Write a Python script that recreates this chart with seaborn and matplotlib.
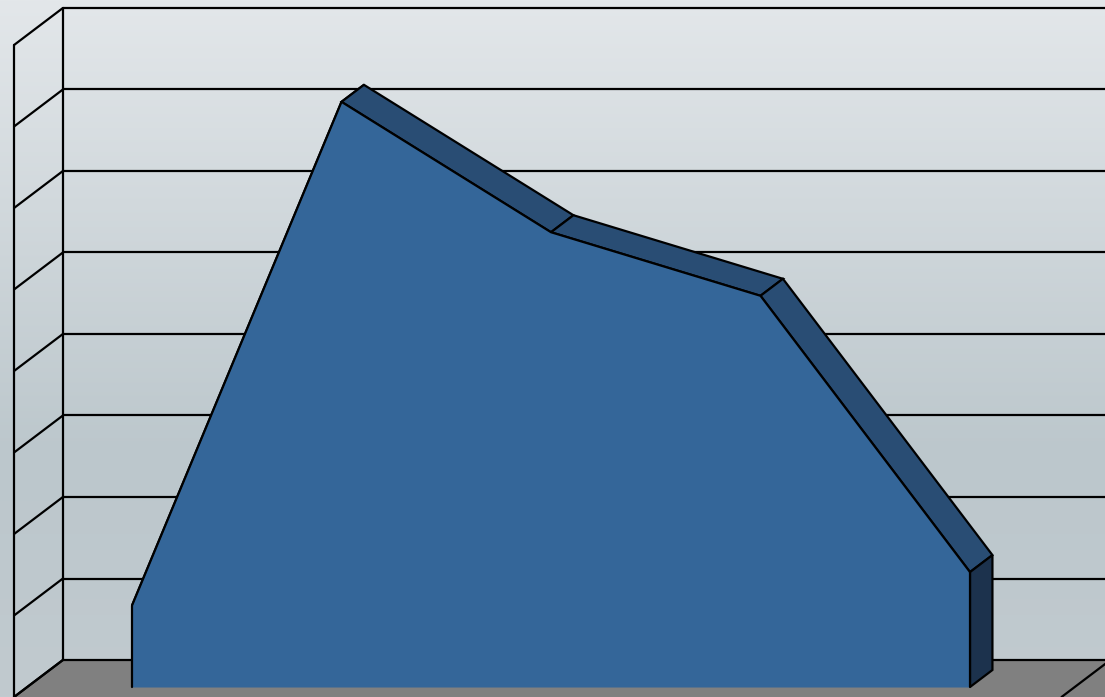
import numpy as np
import matplotlib.pyplot as plt
import seaborn as sns
from matplotlib.colors import LinearSegmentedColormap

# data (in gridline units)
categories = ["A", "B", "C", "D", "E"]
values = [1.0, 7.18, 5.58, 4.8, 1.41]
grid_levels = [0, 1, 2, 3, 4, 5, 6, 7, 8]

sns.set_theme(style="white")

# fake 3D: a depth step moves a point right and up
KX = 1.32 / 209.5   # category units per depth step
KY = 1.0 / 81.5     # value units per depth step
D_FRONT, D_AREA, D_WALL = -10, 17, 27
X_LEFT, X_RIGHT = -0.5, 4.5


def proj(x, v, d):
    return x + d * KX, v + d * KY


fig = plt.figure(figsize=(11.05, 6.97), dpi=100)
ax = fig.add_axes([0, 0, 1, 1])
xlim = (-132 / 209.5, (1105 - 132) / 209.5)
ylim = (-10 / 81.5, 687 / 81.5)
ax.set_xlim(*xlim)
ax.set_ylim(*ylim)
ax.axis("off")

# background gradient (darkest a bit below the middle)
cmap = LinearSegmentedColormap.from_list(
    "bg", [(0, "#c1cacf"), (0.35, "#bcc7cc"), (1, "#e3e7ea")])
grad = np.linspace(0, 1, 256).reshape(-1, 1)
ax.imshow(grad, cmap=cmap, aspect="auto", origin="lower",
          extent=[xlim[0], xlim[1], ylim[0], ylim[1]], zorder=0)

lw = 1.6
top = grid_levels[-1]

# floor
fl = [proj(X_LEFT, 0, D_FRONT), proj(X_RIGHT + 1, 0, D_FRONT),
      proj(X_RIGHT + 1, 0, D_WALL), proj(X_LEFT, 0, D_WALL)]
ax.fill(*zip(*fl), color="#808080", zorder=1, lw=0)
ax.plot(*zip(proj(X_LEFT, 0, D_FRONT), proj(X_LEFT, 0, D_WALL)), color="black", lw=lw, zorder=2)
ax.plot(*zip(proj(X_RIGHT, 0, D_FRONT), proj(X_RIGHT, 0, D_WALL)), color="black", lw=lw, zorder=2)

# walls and gridlines
for g in grid_levels:
    ax.plot(*zip(proj(X_LEFT, g, D_WALL), proj(X_RIGHT + 1, g, D_WALL)), color="black", lw=lw, zorder=2)
    ax.plot(*zip(proj(X_LEFT, g, D_FRONT), proj(X_LEFT, g, D_WALL)), color="black", lw=lw, zorder=2)
ax.plot(*zip(proj(X_LEFT, 0, D_WALL), proj(X_LEFT, top, D_WALL)), color="black", lw=lw, zorder=2)
ax.plot(*zip(proj(X_LEFT, 0, D_FRONT), proj(X_LEFT, top, D_FRONT)), color="black", lw=lw, zorder=2)

# area
xs = np.arange(len(categories))
for i in range(len(xs) - 1):
    face = [proj(xs[i], values[i], 0), proj(xs[i + 1], values[i + 1], 0),
            proj(xs[i + 1], values[i + 1], D_AREA), proj(xs[i], values[i], D_AREA)]
    ax.fill(*zip(*face), facecolor="#294d74", edgecolor="black", lw=lw, zorder=3)

side = [proj(xs[-1], 0, 0), proj(xs[-1], values[-1], 0),
        proj(xs[-1], values[-1], D_AREA), proj(xs[-1], 0, D_AREA)]
ax.fill(*zip(*side), facecolor="#1c324d", edgecolor="black", lw=lw, zorder=3)

ax.fill_between(xs, 0, values, color="#346699", lw=0, zorder=4)
sns.lineplot(x=xs, y=values, color="black", lw=lw, ax=ax, zorder=5)
ax.plot([xs[0], xs[0]], [0, values[0]], color="black", lw=lw, zorder=5)
ax.plot([xs[-1], xs[-1]], [0, values[-1]], color="black", lw=lw, zorder=5)

ax.set_xlim(*xlim)
ax.set_ylim(*ylim)
ax.axis("off")
fig.savefig("out.png", dpi=100)
